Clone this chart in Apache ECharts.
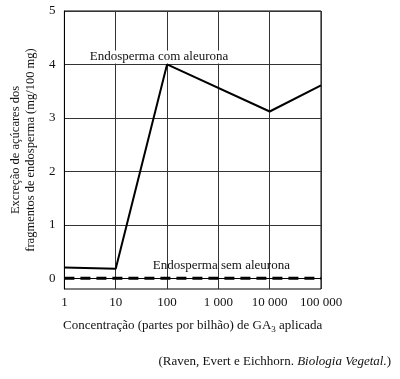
<!DOCTYPE html>
<html><head><meta charset="utf-8">
<script src="https://cdn.jsdelivr.net/npm/echarts@6/dist/echarts.min.js"></script>
<style>html,body{margin:0;padding:0;background:#fff}#c{width:400px;height:379px}</style>
</head><body><div id="c"></div>
<script>
var concentrations = [1, 10, 100, 10000, 100000];
var comAleurona = [0.2, 0.18, 4.0, 3.12, 3.61];
var semConc = [1, 10, 100, 1000, 10000, 100000];
var semAleurona = [0, 0, 0, 0, 0, 0];
var yTicks = [0, 1, 2, 3, 4, 5];
var xTicks = [1, 10, 100, 1000, 10000, 100000];
var xTickLabels = ['1', '10', '100', '1 000', '10 000', '100 000'];
var labelCom = 'Endosperma com aleurona';
var labelSem = 'Endosperma sem aleurona';

var F = 'Liberation Serif';
var chart = echarts.init(document.getElementById('c'));
chart.setOption({
  animation: false,
  grid: {left: 63, right: 79, top: 11, bottom: 90, show: true, borderColor: '#000', borderWidth: 1},
  xAxis: {
    type: 'log', logBase: 10, min: 1, max: 100000,
    axisLine: {lineStyle: {color: '#000', width: 1}},
    axisTick: {show: false},
    splitLine: {show: true, lineStyle: {color: '#333', width: 1}},
    minorSplitLine: {show: false},
    axisLabel: {fontFamily: F, fontSize: 13, color: '#111', margin: 7,
      formatter: function (v) {
        var i = xTicks.indexOf(Math.round(v));
        return i >= 0 ? xTickLabels[i] : '';
      }},
    name: '{a|Concentração (partes por bilhão) de GA}{s|3}{a| aplicada}',
    nameLocation: 'middle', nameGap: 29,
    nameTextStyle: {fontFamily: F, fontSize: 13, color: '#111',
      rich: {a: {fontFamily: F, fontSize: 13, color: '#111', lineHeight: 16},
             s: {fontFamily: F, fontSize: 9, color: '#111', lineHeight: 16, verticalAlign: 'bottom', padding: [6, 0, 0, 0]}}}
  },
  yAxis: {
    type: 'value', min: -0.2, max: 5,
    axisLine: {lineStyle: {color: '#000', width: 1}},
    axisTick: {show: false, customValues: yTicks},
    splitLine: {show: true, lineStyle: {color: '#333', width: 1}},
    axisLabel: {customValues: yTicks, fontFamily: F, fontSize: 13, color: '#111', margin: 9},
    name: 'Excreção de açúcares dos\nfragmentos de endosperma (mg/100 mg)',
    nameLocation: 'middle', nameGap: 25,
    nameTextStyle: {fontFamily: F, fontSize: 12.5, color: '#111', lineHeight: 15}
  },
  series: [
    {
      type: 'line', data: concentrations.map(function (c, i) {
        var d = {value: [c, comAleurona[i]]};
        if (c === 100) d.label = {show: true, formatter: labelCom, position: 'top', offset: [-8, 4],
          fontFamily: F, fontSize: 13, color: '#111', backgroundColor: '#fff', padding: [0, 2, 0, 2], lineHeight: 13};
        return d;
      }),
      showSymbol: true, symbolSize: 0, symbol: 'circle',
      lineStyle: {color: '#000', width: 2}, itemStyle: {color: '#000'}, z: 3
    },
    {
      type: 'line', data: semConc.map(function (c, i) {
        var d = {value: [c, semAleurona[i]]};
        if (c === 1000) d.label = {show: true, formatter: labelSem, position: 'top', offset: [3, -1],
          fontFamily: F, fontSize: 13, color: '#111'};
        return d;
      }),
      showSymbol: true, symbolSize: 0, symbol: 'circle',
      lineStyle: {color: '#000', width: 3, type: [10, 6]}, itemStyle: {color: '#000'}, z: 3
    }
  ],
  graphic: [{
    type: 'text', right: 9, top: 355,
    style: {
      text: '{a|(Raven, Evert e Eichhorn. }{i|Biologia Vegetal.}{a|)}',
      rich: {a: {fontFamily: F, fontSize: 13, fill: '#111'}, i: {fontFamily: F, fontSize: 13, fontStyle: 'italic', fill: '#111'}}
    }
  }]
});
</script></body></html>
